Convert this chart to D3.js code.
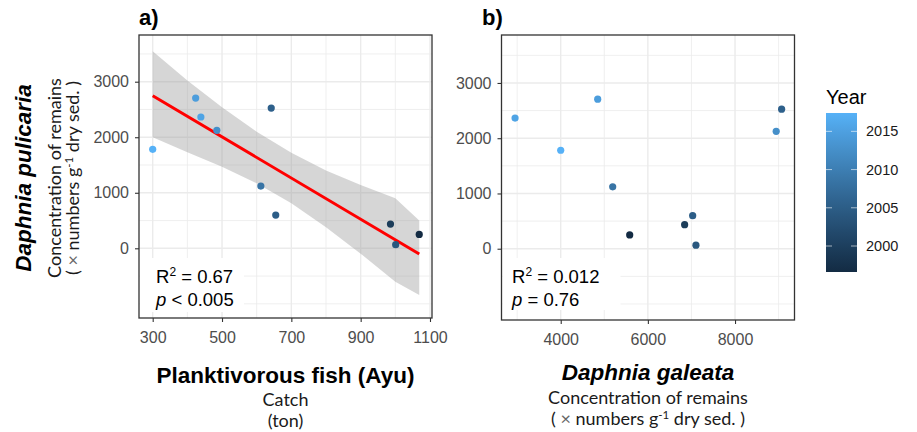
<!DOCTYPE html>
<html><head><meta charset="utf-8">
<script src="https://cdn.jsdelivr.net/npm/d3@7"></script>
<style>body{margin:0;background:#fff}svg{display:block}</style>
</head><body><svg id="c" width="917" height="432"></svg>
<script>
// ---------------- data ----------------
const years      = [2017.4, 2014.5, 2015.5, 2012.5, 2008.5, 2005.5, 2005, 1999.5, 2004, 1996.6];
const fishCatch  = [300, 424, 439, 485, 612, 642, 655, 986, 1001, 1069];
const pulicaria  = [1782, 2706, 2364, 2124, 1121, 2526, 598, 436, 65, 250];
const galeata    = [4000, 4849, 2952, 8945, 5193, 9069, 7028, 6844, 7103, 5583];
const fitX       = [300, 1069];
const fitY       = [2748, -103];
const bandX      = [300, 400, 500, 600, 700, 800, 900, 1000, 1069];
const bandUpper  = [3550, 3020, 2540, 2100, 1720, 1400, 1140, 900, 500];
const bandLower  = [2000, 1730, 1470, 1170, 810, 380, -96, -600, -840];
const xTicksA    = [300, 500, 700, 900, 1100];
const xMinorA    = [400, 600, 800, 1000];
const xTicksB    = [4000, 6000, 8000];
const xMinorB    = [3000, 5000, 7000, 9000];
const yTicks     = [0, 1000, 2000, 3000];
const yMinor     = [-1000, -500, 500, 1500, 2500, 3500];
const legendTicks = [2000, 2005, 2010, 2015];
const yearRange  = [1996.6, 2017.4];

// ---------------- setup ----------------
const svg = d3.select("#c");
const F1 = "'Liberation Sans', Arial, sans-serif";
const F2 = "Lato, 'Open Sans', sans-serif";
const SMALL = 18;
const color = d3.scaleLinear().domain(yearRange).range(["#132B43", "#56B1F7"]).interpolate(d3.interpolateLab);

function panel(o) {
  const x = d3.scaleLinear().domain(o.xd).range([o.l, o.r]);
  const y = d3.scaleLinear().domain(o.yd).range([o.b, o.t]);
  const g = svg.append("g");
  g.append("rect").attr("x", o.l).attr("y", o.t).attr("width", o.r - o.l).attr("height", o.b - o.t).attr("fill", "#fff");
  const grid = g.append("g").attr("stroke", "#EBEBEB");
  grid.selectAll(".vm").data(o.xMinor).join("line").attr("x1", d => x(d)).attr("x2", d => x(d)).attr("y1", o.t).attr("y2", o.b).attr("stroke-width", 0.8);
  grid.selectAll(".hm").data(yMinor).join("line").attr("y1", d => y(d)).attr("y2", d => y(d)).attr("x1", o.l).attr("x2", o.r).attr("stroke-width", 0.8);
  grid.selectAll(".vM").data(o.xTicks).join("line").attr("x1", d => x(d)).attr("x2", d => x(d)).attr("y1", o.t).attr("y2", o.b).attr("stroke-width", 1.4);
  grid.selectAll(".hM").data(yTicks).join("line").attr("y1", d => y(d)).attr("y2", d => y(d)).attr("x1", o.l).attr("x2", o.r).attr("stroke-width", 1.4);
  // label box
  g.append("rect").attr("x", o.box[0]).attr("y", o.box[1]).attr("width", o.box[2]).attr("height", o.box[3]).attr("fill", "#fff");
  if (o.band) {
    const area = d3.area().x(i => x(bandX[i])).y0(i => y(bandLower[i])).y1(i => y(bandUpper[i]));
    g.append("path").attr("d", area(d3.range(bandX.length))).attr("fill", "#999999").attr("fill-opacity", 0.4);
    const line = d3.line().x(i => x(fitX[i])).y(i => y(fitY[i]));
    g.append("path").attr("d", line(d3.range(fitX.length))).attr("stroke", "#FF0000").attr("stroke-width", 3).attr("fill", "none");
  }
  g.selectAll(".pt").data(d3.range(years.length)).join("circle")
    .attr("cx", i => x(o.xs[i])).attr("cy", i => y(pulicaria[i])).attr("r", 3.6)
    .attr("fill", i => color(years[i]));
  // annotation
  const t1 = g.append("text").attr("x", o.ann[0]).attr("y", o.ann[1]).attr("font-family", F1).attr("font-size", 18.5).attr("fill", "#000");
  t1.append("tspan").text("R");
  t1.append("tspan").text("2").attr("font-size", 12).attr("dy", -7);
  t1.append("tspan").text(" = " + o.r2).attr("dy", 7);
  const t2 = g.append("text").attr("x", o.ann[0]).attr("y", o.ann[1] + 23).attr("font-family", F1).attr("font-size", 18.5).attr("fill", "#000");
  t2.append("tspan").text("p").attr("font-style", "italic");
  t2.append("tspan").text(o.pv);
  // border
  g.append("rect").attr("x", o.l).attr("y", o.t).attr("width", o.r - o.l).attr("height", o.b - o.t)
    .attr("fill", "none").attr("stroke", "#333333").attr("stroke-width", 1.3);
  // axes
  const ax = g.append("g").attr("transform", `translate(0,${o.b})`)
    .call(d3.axisBottom(x).tickValues(o.xTicks).tickSize(4).tickSizeOuter(0).tickPadding(10).tickFormat(d3.format("d")));
  const ay = g.append("g").attr("transform", `translate(${o.l},0)`)
    .call(d3.axisLeft(y).tickValues(yTicks).tickSize(4).tickSizeOuter(0).tickPadding(6).tickFormat(d3.format("d")));
  [ax, ay].forEach(a => {
    a.select(".domain").remove();
    a.selectAll("line").attr("stroke", "#333333").attr("stroke-width", 1.1);
    a.selectAll("text").attr("fill", "#4D4D4D").attr("font-size", 16).attr("font-family", F1);
  });
  // panel tag
  svg.append("text").attr("x", o.tag[0]).attr("y", o.tag[1]).text(o.tagText)
    .attr("font-family", F1).attr("font-weight", "bold").attr("font-size", 22);
  return { x, y };
}

panel({ l: 139, r: 432, t: 35, b: 318, xd: [260.5, 1105.8], yd: [-1255, 3841],
  xTicks: xTicksA, xMinor: xMinorA, xs: fishCatch, band: true,
  box: [140, 258, 104, 54], ann: [156, 283], r2: "0.67", pv: " < 0.005", tag: [139, 25], tagText: "a)" });
panel({ l: 501.5, r: 794.5, t: 35, b: 320, xd: [2641, 9365], yd: [-1290, 3868],
  xTicks: xTicksB, xMinor: xMinorB, xs: galeata, band: false,
  box: [502.5, 258, 118, 52], ann: [512, 283], r2: "0.012", pv: " = 0.76", tag: [482, 25], tagText: "b)" });

// y axis title (panel a)
const yt = svg.append("g").attr("transform", "translate(0,178) rotate(-90)");
yt.append("text").attr("x", 0).attr("y", 31).attr("text-anchor", "middle").attr("font-family", F1)
  .attr("font-weight", "bold").attr("font-style", "italic").attr("font-size", 22.5).text("Daphnia  pulicaria");
yt.append("text").attr("x", 0).attr("y", 61).attr("text-anchor", "middle").attr("font-family", F2)
  .attr("font-size", SMALL).attr("fill", "#1a1a1a").text("Concentration of remains");
function unitText(sel) {
  sel.append("tspan").text("( ");
  sel.append("tspan").text("×").attr("fill", "#666");
  sel.append("tspan").text(" numbers g");
  sel.append("tspan").text("-1").attr("font-size", 11.5).attr("dy", -6);
  sel.append("tspan").text(" dry sed. )").attr("dy", 6);
}
unitText(yt.append("text").attr("x", 0).attr("y", 79).attr("text-anchor", "middle").attr("font-family", F2)
  .attr("font-size", SMALL).attr("fill", "#1a1a1a"));

// x axis titles
svg.append("text").attr("x", 285.5).attr("y", 383).attr("text-anchor", "middle").attr("font-family", F1)
  .attr("font-weight", "bold").attr("font-size", 22.5).text("Planktivorous fish (Ayu)");
svg.append("text").attr("x", 285.5).attr("y", 406).attr("text-anchor", "middle").attr("font-family", F2)
  .attr("font-size", SMALL).attr("fill", "#1a1a1a").text("Catch");
svg.append("text").attr("x", 285.5).attr("y", 427).attr("text-anchor", "middle").attr("font-family", F2)
  .attr("font-size", SMALL).attr("fill", "#1a1a1a").text("(ton)");
svg.append("text").attr("x", 648).attr("y", 380).attr("text-anchor", "middle").attr("font-family", F1)
  .attr("font-weight", "bold").attr("font-style", "italic").attr("font-size", 22.5).text("Daphnia  galeata");
svg.append("text").attr("x", 648).attr("y", 404).attr("text-anchor", "middle").attr("font-family", F2)
  .attr("font-size", SMALL).attr("fill", "#1a1a1a").text("Concentration of remains");
unitText(svg.append("text").attr("x", 648).attr("y", 425).attr("text-anchor", "middle").attr("font-family", F2)
  .attr("font-size", SMALL).attr("fill", "#1a1a1a"));

// legend
const lg = { l: 826, r: 857, t: 113, b: 272 };
const ly = d3.scaleLinear().domain(yearRange).range([lg.b, lg.t]);
const grad = svg.append("defs").append("linearGradient").attr("id", "yg").attr("x1", 0).attr("x2", 0).attr("y1", 1).attr("y2", 0);
grad.selectAll("stop").data(d3.range(0, 1.0001, 0.05)).join("stop")
  .attr("offset", d => d).attr("stop-color", d => color(yearRange[0] + d * (yearRange[1] - yearRange[0])));
svg.append("rect").attr("x", lg.l).attr("y", lg.t).attr("width", lg.r - lg.l).attr("height", lg.b - lg.t).attr("fill", "url(#yg)");
svg.append("text").attr("x", lg.l).attr("y", 104).attr("font-family", F1).attr("font-size", 20).text("Year");
const la = svg.append("g").attr("transform", `translate(${lg.r},0)`)
  .call(d3.axisRight(ly).tickValues(legendTicks).tickSize(0).tickPadding(9).tickFormat(d3.format("d")));
la.select(".domain").remove();
la.selectAll("text").attr("font-size", 14.5).attr("font-family", F1).attr("fill", "#1a1a1a");
svg.selectAll(".lt").data(legendTicks).join("g").each(function(d) {
  const s = d3.select(this);
  s.append("line").attr("x1", lg.l).attr("x2", lg.l + 6).attr("y1", ly(d)).attr("y2", ly(d)).attr("stroke", "#fff").attr("stroke-opacity", 0.6);
  s.append("line").attr("x1", lg.r - 6).attr("x2", lg.r).attr("y1", ly(d)).attr("y2", ly(d)).attr("stroke", "#fff").attr("stroke-opacity", 0.6);
});
</script></body></html>
